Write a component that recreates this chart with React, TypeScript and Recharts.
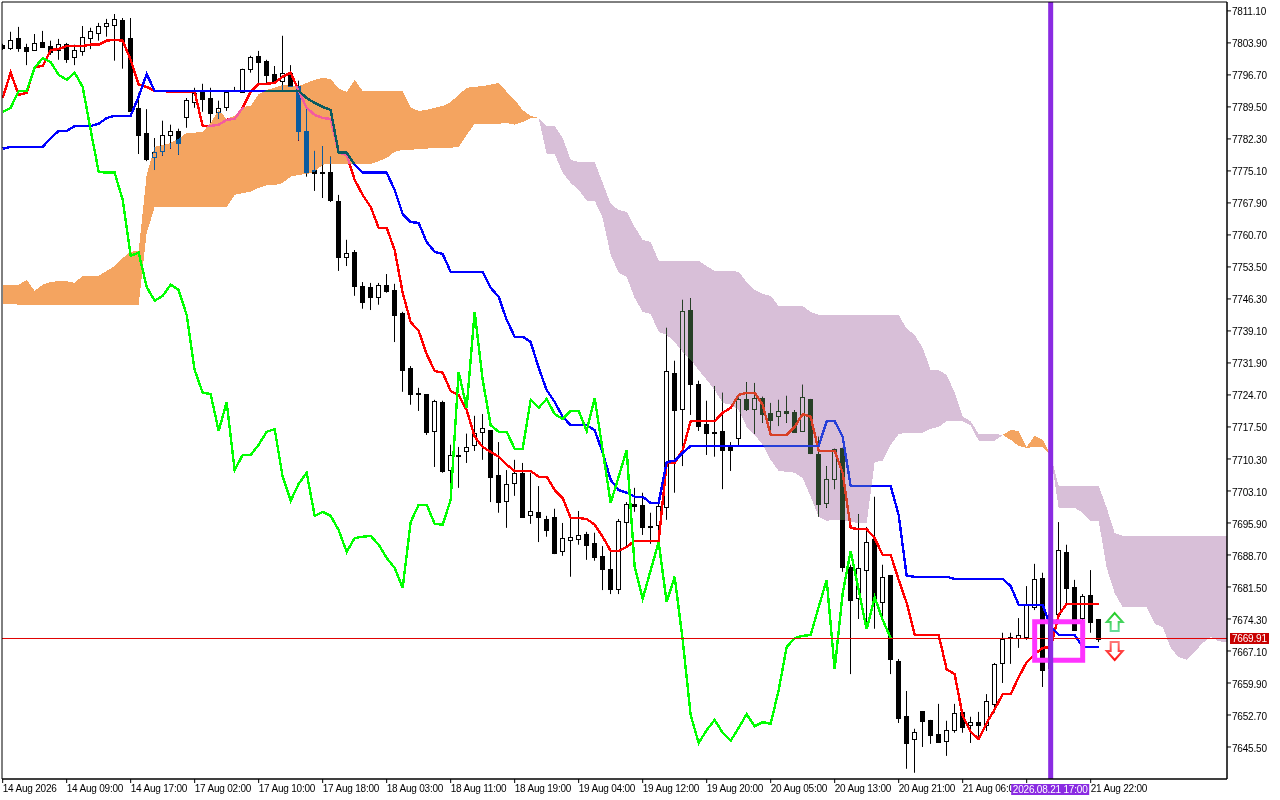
import { Area, Bar, ComposedChart, Line, ReferenceArea, ReferenceDot, ReferenceLine, XAxis, YAxis } from 'recharts'

const FONT = '"Liberation Sans", Arial, sans-serif'
const CHART_W = 1280
const CHART_H = 800
const AXIS_BOTTOM = 779

const opens = [
  7803.5, 7802.8, 7805.0, 7803.0, 7802.3, 7804.1, 7803.2, 7802.3, 7803.7, 7800.7,
  7802.1, 7805.0, 7806.2, 7807.7, 7808.0, 7809.1, 7805.0, 7789.3, 7783.7, 7778.3,
  7779.6, 7783.2, 7784.1, 7787.3, 7790.6, 7793.1, 7791.5, 7788.4, 7789.5, 7793.3,
  7792.9, 7798.1, 7801.0, 7799.9, 7796.9, 7795.4, 7797.2, 7794.2, 7784.1, 7775.3,
  7774.9, 7774.9, 7768.4, 7755.8, 7756.9, 7749.2, 7749.0, 7746.8, 7749.5, 7748.3,
  7743.2, 7730.8, 7725.2, 7724.9, 7716.6, 7723.1, 7707.8, 7711.0, 7712.1, 7713.5,
  7716.4, 7716.8, 7706.7, 7700.9, 7704.9, 7707.2, 7697.7, 7698.4, 7696.8, 7697.3,
  7689.6, 7692.1, 7692.3, 7693.4, 7691.4, 7688.5, 7685.6, 7681.1, 7696.1, 7700.2,
  7700.0, 7695.2, 7695.5, 7699.5, 7729.7, 7721.6, 7743.8, 7727.2, 7718.2, 7716.4,
  7716.6, 7713.2, 7715.0, 7723.8, 7721.6, 7724.1, 7720.7, 7720.0, 7721.1, 7720.9,
  7716.6, 7723.8, 7711.4, 7700.4, 7705.8, 7712.8, 7686.0, 7679.0, 7685.3, 7692.3,
  7678.1, 7684.2, 7664.9, 7652.5, 7647.3, 7653.6, 7651.6, 7648.4, 7646.9, 7649.3,
  7653.4, 7650.5, 7651.1, 7650.5, 7655.2, 7664.4, 7670.2, 7670.0, 7670.2, 7677.0,
  7683.5, 7663.3, 7675.4, 7689.4, 7681.5, 7674.5, 7679.7, 7674.3,
]
const highs = [
  7803.7, 7806.4, 7807.5, 7803.7, 7805.9, 7806.6, 7804.4, 7804.8, 7803.9, 7803.5,
  7807.7, 7807.3, 7808.4, 7809.3, 7810.4, 7809.5, 7809.5, 7792.7, 7789.0, 7782.5,
  7786.4, 7785.5, 7784.6, 7791.5, 7793.8, 7794.7, 7793.8, 7790.9, 7793.3, 7794.0,
  7798.1, 7801.0, 7802.1, 7800.1, 7798.7, 7805.5, 7798.9, 7795.4, 7789.3, 7779.6,
  7780.7, 7778.3, 7769.7, 7759.6, 7757.3, 7750.1, 7749.9, 7749.9, 7751.9, 7749.7,
  7743.4, 7731.2, 7726.3, 7724.9, 7723.6, 7723.4, 7713.5, 7713.0, 7716.0, 7720.0,
  7720.4, 7716.8, 7714.1, 7707.8, 7710.1, 7709.4, 7707.2, 7704.2, 7697.5, 7699.1,
  7695.9, 7697.0, 7698.6, 7693.9, 7693.7, 7690.7, 7689.4, 7696.8, 7700.6, 7703.8,
  7702.7, 7698.2, 7700.4, 7739.8, 7732.4, 7746.1, 7746.5, 7727.9, 7723.4, 7726.7,
  7725.2, 7714.1, 7724.1, 7727.6, 7727.4, 7724.3, 7722.9, 7723.6, 7724.5, 7721.3,
  7727.0, 7723.8, 7715.3, 7708.7, 7712.6, 7712.8, 7686.5, 7697.9, 7695.0, 7701.8,
  7686.5, 7684.2, 7665.3, 7658.1, 7649.6, 7653.6, 7651.6, 7655.2, 7651.4, 7655.2,
  7653.4, 7652.3, 7653.4, 7657.4, 7664.4, 7671.2, 7671.2, 7674.5, 7681.7, 7686.7,
  7684.7, 7676.3, 7696.1, 7691.0, 7683.1, 7679.9, 7685.3, 7674.3,
]
const lows = [
  7802.3, 7802.3, 7801.9, 7798.9, 7802.1, 7802.8, 7801.2, 7800.1, 7799.4, 7798.9,
  7801.0, 7802.5, 7804.4, 7805.3, 7799.9, 7798.1, 7788.6, 7778.9, 7777.3, 7775.3,
  7778.5, 7780.1, 7778.7, 7784.8, 7789.3, 7788.4, 7785.9, 7786.8, 7788.6, 7792.9,
  7792.7, 7797.2, 7794.9, 7794.9, 7794.9, 7793.3, 7794.0, 7781.9, 7773.8, 7770.6,
  7769.0, 7768.1, 7752.6, 7753.7, 7747.0, 7744.1, 7743.8, 7745.0, 7747.7, 7736.6,
  7725.4, 7722.5, 7721.1, 7715.7, 7708.5, 7707.2, 7703.3, 7703.8, 7709.4, 7712.1,
  7710.1, 7700.6, 7698.2, 7694.8, 7702.0, 7697.3, 7695.7, 7691.6, 7692.8, 7688.9,
  7688.5, 7683.8, 7691.0, 7687.6, 7687.4, 7680.8, 7679.9, 7679.9, 7690.7, 7698.4,
  7693.2, 7691.2, 7691.6, 7696.6, 7702.7, 7708.7, 7720.2, 7716.6, 7711.2, 7710.8,
  7703.5, 7707.6, 7713.2, 7721.1, 7716.0, 7718.4, 7715.7, 7717.7, 7718.4, 7716.2,
  7716.4, 7711.4, 7697.3, 7699.3, 7703.5, 7684.9, 7661.9, 7674.3, 7673.6, 7672.1,
  7674.1, 7661.9, 7650.9, 7640.6, 7639.7, 7645.5, 7646.2, 7646.4, 7643.5, 7648.7,
  7648.7, 7646.4, 7647.8, 7649.1, 7653.2, 7659.9, 7664.2, 7667.8, 7669.6, 7676.3,
  7659.0, 7662.4, 7674.8, 7677.7, 7671.8, 7673.6, 7671.2, 7669.1,
]
const closes = [
  7802.8, 7804.6, 7802.8, 7802.1, 7803.9, 7803.0, 7801.9, 7803.7, 7800.3, 7802.3,
  7805.3, 7806.6, 7807.7, 7808.4, 7809.3, 7804.4, 7788.6, 7783.2, 7777.8, 7779.4,
  7783.2, 7784.1, 7781.4, 7791.1, 7792.7, 7791.3, 7788.1, 7789.3, 7792.9, 7793.1,
  7798.1, 7800.7, 7799.6, 7796.7, 7795.4, 7797.2, 7794.2, 7784.1, 7774.9, 7774.7,
  7774.7, 7768.6, 7755.8, 7756.7, 7749.2, 7745.6, 7746.8, 7749.5, 7748.1, 7742.7,
  7730.3, 7724.9, 7724.9, 7716.4, 7723.4, 7707.6, 7711.2, 7711.2, 7713.0, 7716.2,
  7717.3, 7706.3, 7700.6, 7704.7, 7707.2, 7697.3, 7698.6, 7697.3, 7694.3, 7689.2,
  7692.5, 7692.8, 7693.2, 7691.0, 7688.3, 7685.6, 7681.1, 7696.4, 7700.2, 7699.7,
  7695.0, 7695.0, 7699.7, 7730.1, 7721.3, 7743.6, 7727.2, 7717.7, 7716.2, 7716.2,
  7712.3, 7712.3, 7723.8, 7721.6, 7724.1, 7720.4, 7719.1, 7721.1, 7720.7, 7716.4,
  7724.3, 7711.7, 7700.2, 7705.8, 7712.6, 7686.0, 7678.6, 7685.8, 7691.6, 7678.4,
  7683.8, 7665.3, 7652.0, 7646.4, 7648.9, 7651.4, 7648.2, 7646.6, 7649.3, 7653.2,
  7650.0, 7651.1, 7650.5, 7655.9, 7664.2, 7669.8, 7670.0, 7670.7, 7677.5, 7683.3,
  7662.8, 7675.4, 7689.8, 7681.3, 7671.8, 7679.5, 7673.6, 7669.9,
]

const tenkan = [
  7791.5, 7797.2, 7792.2, 7792.7, 7798.5, 7798.7, 7802.3, 7802.5, 7803.2, 7803.2,
  7803.2, 7803.5, 7803.5, 7804.4, 7804.6, 7804.4, 7800.1, 7794.5, 7794.0, 7793.1,
  7793.1, 7792.9, 7792.9, 7792.9, 7792.9, 7785.2, 7785.2, 7785.5, 7786.6, 7786.8,
  7789.3, 7792.9, 7794.7, 7794.7, 7794.9, 7796.3, 7797.2, 7793.1, 7789.3, 7787.7,
  7787.0, 7786.8, 7779.2, 7778.7, 7773.1, 7769.7, 7767.0, 7762.3, 7762.3, 7757.3,
  7747.7, 7741.1, 7739.1, 7733.9, 7730.1, 7729.7, 7725.6, 7724.7, 7721.3, 7715.3,
  7713.0, 7711.9, 7710.8, 7709.0, 7707.6, 7707.6, 7707.6, 7706.3, 7706.3, 7703.3,
  7701.5, 7697.0, 7697.0, 7696.8, 7695.5, 7692.8, 7689.6, 7689.6, 7690.5, 7691.9,
  7691.9, 7691.9, 7691.9, 7709.4, 7709.4, 7712.3, 7718.8, 7718.8, 7718.8, 7718.8,
  7720.7, 7721.8, 7724.7, 7725.2, 7725.2, 7722.5, 7715.7, 7715.7, 7715.7, 7717.5,
  7720.4, 7719.8, 7712.1, 7712.1, 7712.1, 7707.2, 7694.8, 7694.5, 7694.5, 7692.5,
  7688.7, 7688.7, 7683.1, 7677.9, 7670.7, 7670.7, 7670.7, 7670.7, 7663.0, 7661.9,
  7652.5, 7648.9, 7647.3, 7650.9, 7654.0, 7657.4, 7657.4, 7661.2, 7664.6, 7666.4,
  7667.8, 7668.0, 7675.2, 7677.7, 7677.7, 7677.7, 7677.7, 7677.7,
]
const kijun = [
  7780.1, 7780.5, 7780.5, 7780.5, 7780.5, 7780.5, 7782.5, 7784.1, 7784.1, 7785.2,
  7785.2, 7785.2, 7785.7, 7787.0, 7787.5, 7787.5, 7787.5, 7791.8, 7796.9, 7793.1,
  7793.1, 7793.1, 7793.1, 7793.1, 7793.1, 7793.1, 7793.1, 7793.1, 7793.1, 7793.1,
  7793.1, 7793.1, 7793.1, 7793.1, 7793.1, 7793.1, 7793.1, 7793.1, 7791.5, 7790.4,
  7789.5, 7788.8, 7779.2, 7779.2, 7776.5, 7774.7, 7774.7, 7774.7, 7774.7, 7770.8,
  7765.4, 7763.6, 7763.4, 7759.1, 7756.9, 7756.4, 7752.4, 7752.4, 7752.4, 7752.4,
  7752.4, 7748.8, 7746.8, 7741.6, 7737.8, 7737.8, 7736.6, 7730.8, 7725.8, 7723.1,
  7719.8, 7717.9, 7717.9, 7717.9, 7716.8, 7711.7, 7705.6, 7703.3, 7702.7, 7701.8,
  7701.8, 7700.4, 7700.4, 7709.6, 7709.9, 7711.7, 7713.2, 7713.2, 7713.2, 7713.2,
  7713.2, 7713.2, 7713.2, 7713.2, 7713.2, 7713.2, 7713.2, 7713.2, 7713.2, 7713.2,
  7713.2, 7713.2, 7713.2, 7718.8, 7718.8, 7715.3, 7704.2, 7704.2, 7704.2, 7704.2,
  7704.2, 7704.2, 7697.7, 7684.0, 7683.8, 7683.8, 7683.8, 7683.8, 7683.8, 7683.3,
  7683.3, 7683.3, 7683.3, 7683.3, 7683.3, 7683.3, 7681.7, 7677.5, 7677.5, 7677.5,
  7677.5, 7672.5, 7670.7, 7670.7, 7670.7, 7668.0, 7668.0, 7668.0,
]
const chikou = [
  7788.4, 7789.3, 7793.1, 7793.1, 7798.3, 7800.5, 7799.6, 7796.7, 7795.6, 7797.2,
  7794.0, 7784.3, 7774.9, 7774.7, 7774.7, 7768.6, 7756.0, 7756.7, 7749.0, 7745.9,
  7747.0, 7749.5, 7748.3, 7742.7, 7730.3, 7725.2, 7724.9, 7716.6, 7723.1, 7707.8,
  7711.2, 7711.2, 7713.5, 7716.4, 7717.0, 7706.3, 7700.9, 7704.7, 7707.2, 7697.5,
  7698.4, 7697.5, 7694.3, 7689.4, 7692.5, 7692.8, 7693.0, 7691.0, 7688.0, 7685.8,
  7681.3, 7696.1, 7700.0, 7700.0, 7695.7, 7695.5, 7701.1, 7729.9, 7721.8, 7743.4,
  7728.1, 7717.9, 7716.4, 7716.4, 7712.6, 7712.6, 7723.6, 7721.8, 7723.8, 7720.4,
  7719.3, 7721.1, 7721.1, 7716.6, 7724.0, 7712.3, 7700.4, 7706.3, 7712.3, 7686.0,
  7678.8, 7685.3, 7691.6, 7678.1, 7683.8, 7669.6, 7652.7, 7646.4, 7649.3, 7651.6,
  7648.7, 7646.9, 7649.8, 7652.9, 7650.2, 7651.1, 7650.7, 7658.3, 7668.0, 7670.0,
  7670.5, 7670.7, 7677.0, 7683.1, 7663.0, 7680.1, 7689.6, 7680.8, 7672.0, 7679.2,
  7674.1, 7670.0,
]

const spanA = [
  7749.5, 7749.5, 7749.5, 7750.6, 7748.1, 7749.5, 7750.1, 7750.3, 7750.3, 7749.9,
  7751.5, 7751.5, 7751.5, 7752.6, 7753.7, 7755.5, 7756.9, 7757.1, 7774.2, 7780.5,
  7780.9, 7781.4, 7782.3, 7783.7, 7783.7, 7783.9, 7785.9, 7788.8, 7786.8, 7787.5,
  7789.5, 7789.7, 7792.4, 7793.3, 7793.8, 7794.5, 7794.2, 7794.2, 7794.9, 7795.6,
  7796.0, 7795.8, 7793.6, 7792.9, 7795.6, 7793.1, 7793.1, 7793.1, 7793.1, 7793.1,
  7793.1, 7789.3, 7788.6, 7788.8, 7789.3, 7789.7, 7790.6, 7792.2, 7793.8, 7794.0,
  7794.2, 7794.5, 7794.9, 7792.9, 7791.1, 7788.8, 7787.5, 7787.0, 7778.9, 7778.9,
  7774.7, 7772.4, 7770.8, 7768.4, 7768.4, 7764.5, 7756.2, 7752.2, 7751.3, 7746.5,
  7743.4, 7742.9, 7738.9, 7738.2, 7736.6, 7734.4, 7732.6, 7730.3, 7728.1, 7725.8,
  7722.9, 7722.5, 7721.3, 7717.5, 7715.7, 7713.5, 7710.1, 7707.6, 7707.4, 7707.2,
  7706.0, 7701.8, 7697.3, 7696.4, 7696.6, 7696.6, 7696.1, 7695.9, 7695.9, 7709.6,
  7709.9, 7713.5, 7715.9, 7716.2, 7716.2, 7716.2, 7717.1, 7717.5, 7718.8, 7718.8,
  7718.8, 7717.9, 7714.4, 7714.4, 7714.4, 7715.7, 7716.8, 7716.6, 7713.0, 7715.5,
  7714.6, 7711.2, 7699.3, 7699.3, 7699.3, 7698.2, 7696.4, 7696.4, 7685.8, 7680.1,
  7677.0, 7677.0, 7677.0, 7677.0, 7673.2, 7672.5, 7667.8, 7665.7, 7665.1, 7666.9,
  7668.9, 7670.3, 7669.3, 7669.1,
]
const spanB = [
  7745.2, 7745.2, 7745.0, 7745.0, 7745.0, 7745.0, 7745.0, 7745.0, 7745.0, 7745.0,
  7745.0, 7745.0, 7745.0, 7745.0, 7745.0, 7745.0, 7745.0, 7745.0, 7761.1, 7767.0,
  7767.0, 7767.0, 7767.0, 7767.0, 7767.0, 7767.0, 7767.0, 7767.0, 7767.0, 7769.7,
  7770.1, 7770.4, 7771.3, 7771.9, 7771.9, 7772.4, 7773.8, 7774.2, 7774.4, 7774.9,
  7776.5, 7776.7, 7776.7, 7776.7, 7776.7, 7776.7, 7776.7, 7777.3, 7778.0, 7779.4,
  7779.8, 7779.8, 7780.1, 7780.1, 7780.3, 7780.3, 7780.3, 7780.5, 7783.2, 7785.7,
  7785.7, 7785.7, 7785.7, 7785.9, 7785.5, 7786.1, 7787.0, 7787.0, 7785.2, 7785.2,
  7782.5, 7777.6, 7777.1, 7777.1, 7777.1, 7772.4, 7767.7, 7766.3, 7765.9, 7762.5,
  7759.6, 7759.1, 7754.9, 7754.9, 7754.9, 7754.9, 7754.9, 7754.9, 7753.7, 7752.6,
  7752.6, 7752.6, 7752.4, 7750.1, 7748.3, 7747.4, 7747.0, 7744.7, 7744.7, 7744.7,
  7744.7, 7743.4, 7742.7, 7742.7, 7742.7, 7742.7, 7742.7, 7742.7, 7742.7, 7742.7,
  7742.7, 7742.7, 7742.7, 7739.6, 7738.2, 7735.3, 7730.3, 7730.3, 7729.2, 7725.2,
  7719.8, 7718.8, 7715.9, 7715.9, 7715.9, 7715.7, 7714.6, 7713.2, 7712.8, 7713.0,
  7713.0, 7711.2, 7704.2, 7704.2, 7704.2, 7704.2, 7704.2, 7704.2, 7699.3, 7693.6,
  7693.0, 7693.0, 7693.0, 7693.0, 7693.0, 7693.0, 7693.0, 7693.0, 7693.0, 7693.0,
  7693.0, 7693.0, 7693.0, 7693.0,
]

const priceTicks = [
  7811.1, 7803.9, 7796.7, 7789.5, 7782.3, 7775.1, 7767.9, 7760.7, 7753.5, 7746.3, 7739.1, 7731.9,
  7724.7, 7717.5, 7710.3, 7703.1, 7695.9, 7688.7, 7681.5, 7674.3, 7667.1, 7659.9, 7652.7, 7645.5,
]
// the tick at bar 128 has no label: the cursor's date box covers it
const timeLabels: Record<number, string> = {
  0: '14 Aug 2026',
  8: '14 Aug 09:00',
  16: '14 Aug 17:00',
  24: '17 Aug 02:00',
  32: '17 Aug 10:00',
  40: '17 Aug 18:00',
  48: '18 Aug 03:00',
  56: '18 Aug 11:00',
  64: '18 Aug 19:00',
  72: '19 Aug 04:00',
  80: '19 Aug 12:00',
  88: '19 Aug 20:00',
  96: '20 Aug 05:00',
  104: '20 Aug 13:00',
  112: '20 Aug 21:00',
  120: '21 Aug 06:00',
  128: '',
  136: '21 Aug 22:00',
}
const LAST_PRICE = 7669.91
const CURSOR_BAR = 131
const CURSOR_LABEL = '2026.08.21 17:00'

// cloud colours are the inverse of sandybrown / thistle, blended with "difference"
// so whatever sits underneath flips the way the terminal's XOR fill does
const rows = spanA.map((a, i) => {
  const b = spanB[i]
  return {
    index: i,
    range: i < opens.length ? [lows[i], highs[i]] : null,
    open: opens[i],
    close: closes[i],
    tenkan: tenkan[i] ?? null,
    kijun: kijun[i] ?? null,
    chikou: chikou[i] ?? null,
    bull: a >= b ? [b, a] : null,
    bear: a <= b ? [a, b] : null,
  }
})

function Candle(props: any) {
  const { x, y, width, height, payload } = props
  if (!payload?.range || !height) return null
  const [low, high] = payload.range
  const perUnit = height / (high - low)
  const cx = Math.floor(x + width / 2) + 0.5
  const toY = (v: number) => Math.round(y + (high - v) * perUnit) + 0.5
  const top = toY(Math.max(payload.open, payload.close))
  const bottom = toY(Math.min(payload.open, payload.close))
  const up = payload.close > payload.open
  const left = Math.max(cx - 2, 3.5)
  return (
    <g>
      <line x1={cx} x2={cx} y1={y} y2={y + height} stroke="#000" strokeWidth={1} />
      <rect x={left} y={top} width={cx + 2 - left} height={Math.max(bottom - top, 0.01)} fill={up ? '#fff' : '#000'} stroke="#000" strokeWidth={1} />
    </g>
  )
}

function TimeTick({ x, payload }: any) {
  if (payload.value === CURSOR_BAR) {
    return (
      <g>
        <rect x={x - 39.5} y={784} width={78} height={11} fill="#8a2be2" />
        <text x={x - 0.5} y={793} fontSize={10} fontFamily={FONT} letterSpacing={-0.2} fill="#fff" textAnchor="middle">
          {CURSOR_LABEL}
        </text>
      </g>
    )
  }
  return (
    <g>
      <line x1={x} x2={x} y1={AXIS_BOTTOM} y2={AXIS_BOTTOM + 4} stroke="#000" />
      <text x={x} y={792} fontSize={10} fontFamily={FONT} letterSpacing={-0.2} fill="#000" textAnchor="start">
        {timeLabels[payload.value]}
      </text>
    </g>
  )
}

function PriceTag({ viewBox }: any) {
  const y = viewBox.y
  return (
    <g>
      <rect x={1230} y={y - 5.5} width={39} height={11} fill="#c80000" />
      <text x={1232} y={y + 4} fontSize={10} fontFamily={FONT} letterSpacing={-0.2} fill="#fff">
        {LAST_PRICE.toFixed(2)}
      </text>
    </g>
  )
}

function UpArrow({ cx, cy }: any) {
  return (
    <g>
      <defs>
        <linearGradient id="arrowUp" x1="0" y1="0" x2="0" y2="1">
          <stop offset="0" stopColor="#22cc22" />
          <stop offset="1" stopColor="#66dd99" />
        </linearGradient>
      </defs>
      <path
        d={`M ${cx} ${cy - 9} L ${cx + 8} ${cy} L ${cx + 4} ${cy} L ${cx + 4} ${cy + 9} L ${cx - 4} ${cy + 9} L ${cx - 4} ${cy} L ${cx - 8} ${cy} Z`}
        fill="#fff"
        stroke="url(#arrowUp)"
        strokeWidth={2}
      />
    </g>
  )
}

function DownArrow({ cx, cy }: any) {
  return (
    <g>
      <defs>
        <linearGradient id="arrowDown" x1="0" y1="0" x2="0" y2="1">
          <stop offset="0" stopColor="#ff7777" />
          <stop offset="1" stopColor="#ff1111" />
        </linearGradient>
      </defs>
      <path
        d={`M ${cx} ${cy + 9} L ${cx + 8} ${cy} L ${cx + 4} ${cy} L ${cx + 4} ${cy - 9} L ${cx - 4} ${cy - 9} L ${cx - 4} ${cy} L ${cx - 8} ${cy} Z`}
        fill="#fff"
        stroke="url(#arrowDown)"
        strokeWidth={2}
      />
    </g>
  )
}

export default function App() {
  return (
    <div style={{ position: 'absolute', left: 0, top: 0, width: CHART_W, height: CHART_H, background: '#fff' }}>
      <style>{`
        .recharts-surface { background: #fff; }
        .cloud-xor { mix-blend-mode: difference; }
        .recharts-line-curve, .recharts-area-area { shape-rendering: crispEdges; }
      `}</style>
      <ComposedChart width={CHART_W} height={CHART_H} data={rows} margin={{ top: 2, right: 0, bottom: 0, left: 2 }}>
        <XAxis
          dataKey="index"
          type="number"
          domain={[-0.083, 153.04]}
          ticks={[...Object.keys(timeLabels).map(Number), CURSOR_BAR]}
          interval={0}
          height={21}
          tickLine={false}
          stroke="#000"
          tick={<TimeTick />}
        />
        <YAxis
          orientation="right"
          type="number"
          domain={[7638.3, 7813.1]}
          ticks={priceTicks}
          interval={0}
          width={53}
          tickSize={4}
          tickMargin={1}
          stroke="#000"
          tick={{ fontSize: 10, fontFamily: FONT, fill: '#000', letterSpacing: -0.2, dy: 1 }}
          tickFormatter={(v: number) => v.toFixed(2)}
        />
        <Bar dataKey="range" barSize={6} shape={<Candle />} isAnimationActive={false} zIndex={300} />
        <Line dataKey="tenkan" stroke="#ff0000" strokeWidth={2.4} dot={false} isAnimationActive={false} zIndex={310} />
        <Line dataKey="kijun" stroke="#0000ff" strokeWidth={2.4} dot={false} isAnimationActive={false} zIndex={320} />
        <Area className="cloud-xor" dataKey="bull" type="linear" fill="#0b5b9f" fillOpacity={1} stroke="none" isAnimationActive={false} zIndex={330} />
        <Area className="cloud-xor" dataKey="bear" type="linear" fill="#274027" fillOpacity={1} stroke="none" isAnimationActive={false} zIndex={340} />
        <Line dataKey="chikou" stroke="#00ff00" strokeWidth={2.4} dot={false} isAnimationActive={false} zIndex={350} />
        <ReferenceLine y={LAST_PRICE} stroke="#e00000" strokeWidth={1} label={<PriceTag />} zIndex={360} />
        <ReferenceArea x1={129} x2={135} y1={7665.0} y2={7673.7} fill="none" stroke="#ff33ff" strokeWidth={5} fillOpacity={0} zIndex={370} />
        <ReferenceLine x={CURSOR_BAR} stroke="#8a2be2" strokeWidth={5} zIndex={380} />
        <ReferenceDot x={139} y={7673.6} shape={<UpArrow />} zIndex={390} />
        <ReferenceDot x={139} y={7667.1} shape={<DownArrow />} zIndex={390} />
        <ReferenceArea x1={-0.083} x2={153.04} y1={7638.3} y2={7813.1} fill="none" fillOpacity={0} stroke="#000" strokeWidth={1} zIndex={395} />
      </ComposedChart>
    </div>
  )
}
